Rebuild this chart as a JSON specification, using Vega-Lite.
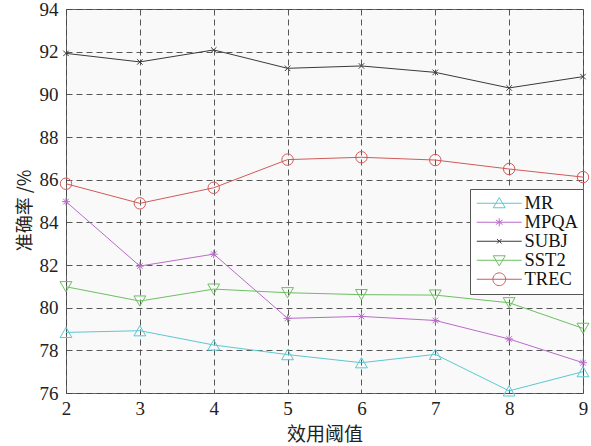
{
  "$schema": "https://vega.github.io/schema/vega-lite/v6.json",
  "width": 517,
  "height": 384,
  "autosize": "none",
  "padding": {"left": 66, "top": 9, "right": 8, "bottom": 53},
  "background": "#ffffff",
  "config": {
    "view": {"fill": "#f9f9f9", "stroke": "#666666", "strokeWidth": 1},
    "axis": {
      "labelFont": "Liberation Serif",
      "labelFontSize": 19,
      "labelColor": "#222222",
      "titleFont": "Noto Sans CJK SC",
      "titleFontSize": 18,
      "titleFontWeight": "normal",
      "titleColor": "#222222",
      "grid": true,
      "gridColor": "#444444",
      "gridDash": [6, 4],
      "gridWidth": 0.9,
      "gridOpacity": 1,
      "ticks": false,
      "domain": false
    },
    "legend": {
      "labelFont": "Liberation Serif",
      "labelFontSize": 18.5,
      "labelColor": "#111111"
    }
  },
  "data": {
    "values": [
      {"x": 2, "series": "MR", "value": 78.84},
      {"x": 3, "series": "MR", "value": 78.92},
      {"x": 4, "series": "MR", "value": 78.25},
      {"x": 5, "series": "MR", "value": 77.8},
      {"x": 6, "series": "MR", "value": 77.42},
      {"x": 7, "series": "MR", "value": 77.81},
      {"x": 8, "series": "MR", "value": 76.1},
      {"x": 9, "series": "MR", "value": 77.0},
      {"x": 2, "series": "MPQA", "value": 84.97},
      {"x": 3, "series": "MPQA", "value": 81.95},
      {"x": 4, "series": "MPQA", "value": 82.51},
      {"x": 5, "series": "MPQA", "value": 79.5},
      {"x": 6, "series": "MPQA", "value": 79.59},
      {"x": 7, "series": "MPQA", "value": 79.4},
      {"x": 8, "series": "MPQA", "value": 78.53},
      {"x": 9, "series": "MPQA", "value": 77.42},
      {"x": 2, "series": "SUBJ", "value": 91.92},
      {"x": 3, "series": "SUBJ", "value": 91.52},
      {"x": 4, "series": "SUBJ", "value": 92.08},
      {"x": 5, "series": "SUBJ", "value": 91.22},
      {"x": 6, "series": "SUBJ", "value": 91.33},
      {"x": 7, "series": "SUBJ", "value": 91.03},
      {"x": 8, "series": "SUBJ", "value": 90.3},
      {"x": 9, "series": "SUBJ", "value": 90.83},
      {"x": 2, "series": "SST2", "value": 80.98},
      {"x": 3, "series": "SST2", "value": 80.31},
      {"x": 4, "series": "SST2", "value": 80.87},
      {"x": 5, "series": "SST2", "value": 80.7},
      {"x": 6, "series": "SST2", "value": 80.61},
      {"x": 7, "series": "SST2", "value": 80.59},
      {"x": 8, "series": "SST2", "value": 80.23},
      {"x": 9, "series": "SST2", "value": 79.03},
      {"x": 2, "series": "TREC", "value": 85.81},
      {"x": 3, "series": "TREC", "value": 84.89},
      {"x": 4, "series": "TREC", "value": 85.62},
      {"x": 5, "series": "TREC", "value": 86.94},
      {"x": 6, "series": "TREC", "value": 87.05},
      {"x": 7, "series": "TREC", "value": 86.92},
      {"x": 8, "series": "TREC", "value": 86.5},
      {"x": 9, "series": "TREC", "value": 86.12}
    ]
  },
  "encoding": {
    "x": {
      "field": "x", "type": "quantitative",
      "scale": {"domain": [2, 9], "nice": false, "zero": false},
      "axis": {
        "values": [2, 3, 4, 5, 6, 7, 8, 9], "title": "效用阈值", "format": "d",
        "labelFont": "Liberation Serif", "labelFontSize": 19,
        "titleFont": "Noto Sans CJK SC", "titleFontSize": 19,
        "labelPadding": 6, "titlePadding": 7, "labelFlush": false
      }
    },
    "y": {
      "field": "value", "type": "quantitative",
      "scale": {"domain": [76, 94], "nice": false, "zero": false},
      "axis": {
        "values": [76, 78, 80, 82, 84, 86, 88, 90, 92, 94], "title": "准确率 /%", "format": "d",
        "labelFont": "Liberation Serif", "labelFontSize": 19,
        "titleFont": "Noto Sans CJK SC", "titleFontSize": 18, "titleY": 201,
        "labelPadding": 8, "titlePadding": 5, "labelFlush": false
      }
    }
  },
  "layer": [
    {
      "mark": {"type": "line", "strokeWidth": 1},
      "encoding": {
        "color": {
          "field": "series", "type": "nominal",
          "scale": {"domain": ["MR", "MPQA", "SUBJ", "SST2", "TREC"], "range": ["#5cc8d0", "#b86cc8", "#3a3a3a", "#6cc060", "#d05a5a"]}
        },
        "detail": {"field": "series"}
      }
    },
    {
      "transform": [{"filter": "datum.series == 'MR'"}],
      "mark": {"type": "point", "shape": "triangle-up", "filled": false, "size": 140, "stroke": "#5cc8d0", "strokeWidth": 1, "opacity": 1}
    },
    {
      "transform": [{"filter": "datum.series == 'MPQA'"}],
      "mark": {"type": "point", "shape": "M-1,0H1M0,-1V1M-0.7,-0.7L0.7,0.7M-0.7,0.7L0.7,-0.7", "filled": false, "size": 64, "stroke": "#b86cc8", "strokeWidth": 1, "opacity": 1}
    },
    {
      "transform": [{"filter": "datum.series == 'SUBJ'"}],
      "mark": {"type": "point", "shape": "M-1,-1L1,1M-1,1L1,-1", "filled": false, "size": 30, "stroke": "#3a3a3a", "strokeWidth": 1, "opacity": 1}
    },
    {
      "transform": [{"filter": "datum.series == 'SST2'"}],
      "mark": {"type": "point", "shape": "triangle-down", "filled": false, "size": 140, "stroke": "#6cc060", "strokeWidth": 1, "opacity": 1}
    },
    {
      "transform": [{"filter": "datum.series == 'TREC'"}],
      "mark": {"type": "point", "shape": "circle", "filled": false, "size": 130, "stroke": "#d05a5a", "strokeWidth": 1, "opacity": 1}
    },
    {
      "mark": {"type": "point", "filled": false, "opacity": 0},
      "encoding": {
        "color": {
          "field": "series", "type": "nominal",
          "scale": {"domain": ["MR", "MPQA", "SUBJ", "SST2", "TREC"], "range": ["#5cc8d0", "#b86cc8", "#3a3a3a", "#6cc060", "#d05a5a"]},
          "legend": {
            "title": null,
            "orient": "none",
            "legendX": 404,
            "legendY": 180,
            "fillColor": "#ffffff",
            "strokeColor": "#555555",
            "padding": 5,
            "symbolSize": 225,
            "symbolOpacity": 1,
            "symbolStrokeWidth": 1,
            "symbolFillColor": "transparent",
            "labelOffset": 31,
            "rowPadding": 0
          }
        },
        "shape": {
          "field": "series", "type": "nominal",
          "scale": {
            "domain": ["MR", "MPQA", "SUBJ", "SST2", "TREC"],
            "range": [
              "M-1,0H5M2,-0.75L2.8,0.6L1.2,0.6Z",
              "M-1,0H5M2,-0.55V0.55M1.55,-0.3L2.45,0.3M1.55,0.3L2.45,-0.3",
              "M-1,0H5M1.7,-0.3L2.3,0.3M1.7,0.3L2.3,-0.3",
              "M-1,0H5M2,0.75L2.8,-0.6L1.2,-0.6Z",
              "M-1,0H5M1.15,0A0.85,0.85 0 1,0 2.85,0A0.85,0.85 0 1,0 1.15,0"
            ]
          }
        }
      }
    }
  ]
}
